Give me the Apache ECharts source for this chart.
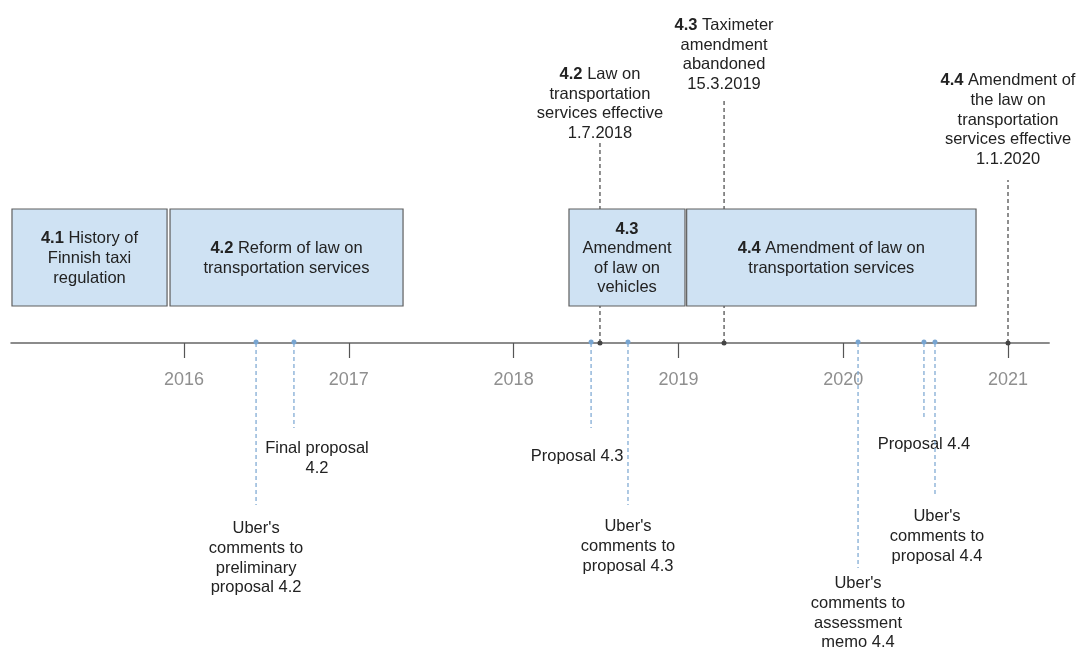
<!DOCTYPE html>
<html>
<head>
<meta charset="utf-8">
<script src="https://cdn.jsdelivr.net/npm/echarts@6/dist/echarts.min.js"></script>
<style>
  html, body { margin: 0; padding: 0; background: #fff; }
  #main { width: 1084px; height: 651px; }
</style>
</head>
<body>
<div id="main"></div>
<script>
// ---- data (dates as decimal years) ----
const years = [2016, 2017, 2018, 2019, 2020, 2021];

const periodLabels = [
  '{b|4.1} History of\nFinnish taxi\nregulation',
  '{b|4.2} Reform of law on\ntransportation services',
  '{b|4.3}\nAmendment\nof law on\nvehicles',
  '{b|4.4} Amendment of law on\ntransportation services'
];
const periodStart = [2014.956, 2015.915, 2018.336, 2019.05];
const periodEnd = [2015.897, 2017.329, 2019.040, 2020.806];

const eventLabels = [
  "Uber's\ncomments to\npreliminary\nproposal 4.2",
  'Final proposal\n4.2',
  'Proposal 4.3',
  '{b|4.2} Law on\ntransportation\nservices effective\n1.7.2018',
  "Uber's\ncomments to\nproposal 4.3",
  '{b|4.3} Taximeter\namendment\nabandoned\n15.3.2019',
  "Uber's\ncomments to\nassessment\nmemo 4.4",
  'Proposal 4.4',
  "Uber's\ncomments to\nproposal 4.4",
  '{b|4.4} Amendment of\nthe law on\ntransportation\nservices effective\n1.1.2020'
];
const eventDates = [2016.437, 2016.667, 2018.470, 2018.524, 2018.694, 2019.277, 2020.090, 2020.490, 2020.557, 2021.000];
// 'law' = milestone above the line, 'doc' = document below the line
const eventKind = ['doc', 'doc', 'doc', 'law', 'doc', 'law', 'doc', 'doc', 'doc', 'law'];

// ---- layout (vertical lanes in y units: 1 unit = 1px, 0 = timeline) ----
const stemLen = [162, 85, 85, 200, 162, 245, 225, 77, 152, 163];
const labelGap = [14, 11, 19, 0, 12, 4, 6, 15, 12, 11];
const labelDx = [0, 23, -14, 0, 0, 0, 0, 0, 2, 0];
const BOX_TOP = 134, BOX_BOTTOM = 37;

const FONT = '"Liberation Sans", Arial, sans-serif';
const FS = 16.5;
const LH = 19.6;
const TEXT = '#222222';
const BLUE = '#78a5d1';
const DARK = '#444444';

const rich = { b: { fontWeight: 'bold', fontSize: FS, lineHeight: LH, fill: TEXT, fontFamily: FONT } };

const chart = echarts.init(document.getElementById('main'), null, { renderer: 'canvas' });

chart.setOption({
  animation: false,
  grid: { left: 11, right: 34.8, top: 0, height: 343, containLabel: false, outerBoundsMode: 'none' },
  xAxis: {
    type: 'value',
    min: 2014.95,
    max: 2021.25,
    splitLine: { show: false },
    axisLine: { show: true, onZero: false, lineStyle: { color: '#666', width: 1.5 } },
    axisTick: { show: true, customValues: years, length: 15, lineStyle: { color: '#555', width: 1.2 } },
    axisLabel: {
      customValues: years,
      formatter: v => String(v),
      color: '#8f8f8f',
      fontSize: 18,
      fontFamily: FONT,
      margin: 28
    }
  },
  yAxis: { type: 'value', min: 0, max: 343, show: false },
  series: [
    {
      type: 'custom',
      name: 'events',
      clip: false,
      z: 1,
      data: eventDates.map((d, i) => [d, i]),
      renderItem(params, api) {
        const i = params.dataIndex;
        const up = eventKind[i] === 'law';
        const sign = up ? 1 : -1;
        const color = up ? DARK : BLUE;
        const p0 = api.coord([eventDates[i], 0]);
        const p1 = api.coord([eventDates[i], sign * stemLen[i]]);
        const pl = api.coord([eventDates[i], sign * (stemLen[i] + labelGap[i])]);
        return {
          type: 'group',
          children: [
            {
              type: 'line',
              shape: { x1: p0[0], y1: p0[1], x2: p1[0], y2: p1[1] },
              style: { stroke: color, lineWidth: 1.2, lineDash: [4, 3] }
            },
            {
              type: 'circle',
              shape: { cx: p0[0], cy: p0[1] - (up ? 0 : 1), r: 2.5 },
              style: { fill: color }
            },
            {
              type: 'text',
              x: pl[0] + labelDx[i],
              y: pl[1],
              style: {
                text: eventLabels[i],
                rich: rich,
                fill: TEXT,
                fontSize: FS,
                lineHeight: LH,
                fontFamily: FONT,
                align: 'center',
                verticalAlign: up ? 'bottom' : 'top'
              }
            }
          ]
        };
      }
    },
    {
      type: 'custom',
      name: 'periods',
      clip: false,
      z: 2,
      data: periodStart.map((s, i) => [s, i]),
      renderItem(params, api) {
        const i = params.dataIndex;
        const a = api.coord([periodStart[i], BOX_TOP]);
        const b = api.coord([periodEnd[i], BOX_BOTTOM]);
        return {
          type: 'group',
          children: [
            {
              type: 'rect',
              shape: { x: a[0], y: a[1], width: b[0] - a[0], height: b[1] - a[1] },
              style: { fill: '#cfe2f3', stroke: '#5f5f5f', lineWidth: 1.2 }
            },
            {
              type: 'text',
              x: (a[0] + b[0]) / 2,
              y: (a[1] + b[1]) / 2 + 1,
              style: {
                text: periodLabels[i],
                rich: rich,
                fill: TEXT,
                fontSize: FS,
                lineHeight: LH,
                fontFamily: FONT,
                align: 'center',
                verticalAlign: 'middle'
              }
            }
          ]
        };
      }
    }
  ]
});
</script>
</body>
</html>
